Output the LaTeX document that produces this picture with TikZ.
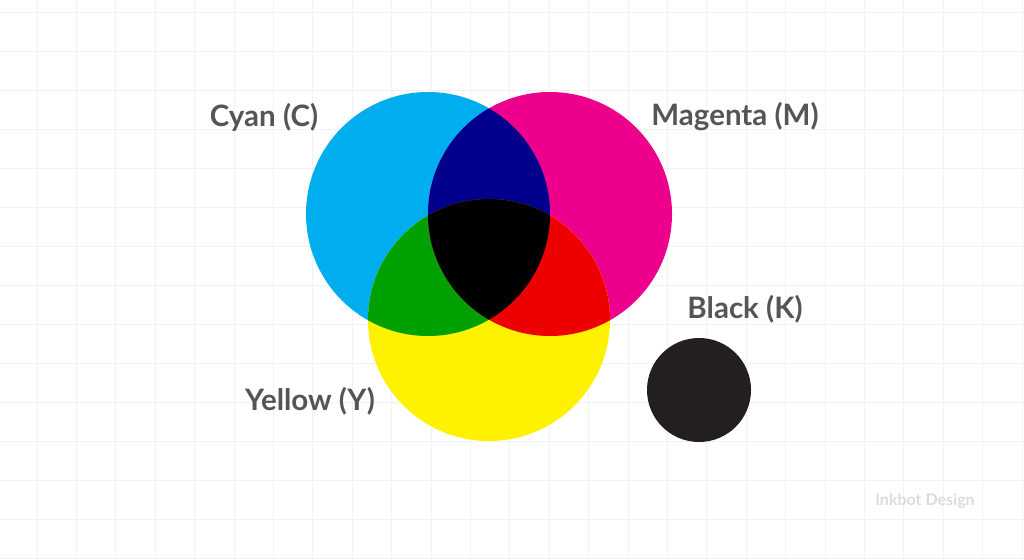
\documentclass[tikz,border=0pt]{standalone}
\usepackage{fontspec}
\setmainfont{Lato}
\usetikzlibrary{positioning}

\definecolor{cyanC}{HTML}{00ADEF}
\definecolor{magentaM}{HTML}{EC008C}
\definecolor{yellowY}{HTML}{FFF200}
\definecolor{blueCM}{HTML}{00008C}
\definecolor{greenCY}{HTML}{00A000}
\definecolor{redMY}{HTML}{EE0000}
\definecolor{blackK}{HTML}{231F20}
\definecolor{labelgray}{HTML}{555555}
\definecolor{gridgray}{HTML}{F2F2F2}
\definecolor{brandgray}{HTML}{DCDCDC}

\tikzset{
  gridline/.style={draw=gridgray, line width=0.8pt},
  inklabel/.style={font=\fontsize{29.5}{32}\selectfont\bfseries, text=labelgray},
}

\begin{document}
\begin{tikzpicture}[x=1pt,y=-1pt]
        \useasboundingbox[fill=white] (0,0) rectangle (1024,559);
        % background grid
        \foreach \i in {0,...,25}
          \draw[gridline] (37+39.4*\i,0) -- (37+39.4*\i,559);
        \foreach \j in {0,...,14}
          \draw[gridline] (0,12+39*\j) -- (1024,12+39*\j);

        % circle centres
        \coordinate (c) at (428,214);
        \coordinate (m) at (550,214);
        \coordinate (y) at (489,320);
        \coordinate (k) at (699,390);

        % primary discs
        \fill[cyanC] (c) circle (122);
        \fill[magentaM] (m) circle (122);
        \fill[yellowY] (y) circle (121);

        % overlaps
        \begin{scope}
          \clip (c) circle (122);
          \fill[blueCM] (m) circle (122);
          \fill[greenCY] (y) circle (121);
        \end{scope}
        \begin{scope}
          \clip (m) circle (122);
          \fill[redMY] (y) circle (121);
          \clip (c) circle (122);
          \fill[black] (y) circle (121);
        \end{scope}

        % key disc
        \fill[blackK] (k) circle (52);

        % labels
        \node[inklabel] (cyanlabel) at (264,117) {Cyan (C)};
        \node[inklabel] (magentalabel) at (735,117) {Magenta (M)};
        \node[inklabel] (blacklabel) at (745,309) {Black (K)};
        \node[inklabel] (yellowlabel) at (310,401) {Yellow (Y)};
        \node[font=\fontsize{16}{18}\selectfont\bfseries, text=brandgray] (brand) at (925,501) {Inkbot Design};
\end{tikzpicture}
\end{document}
